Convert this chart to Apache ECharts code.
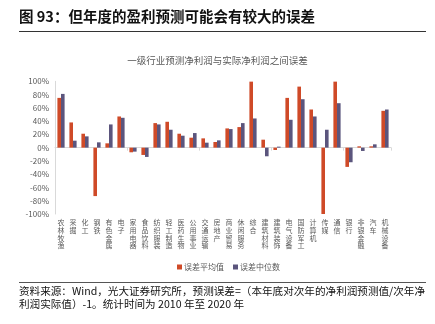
<!DOCTYPE html>
<html><head><meta charset="utf-8">
<script src="https://cdn.jsdelivr.net/npm/echarts@6/dist/echarts.min.js"></script>
<style>html,body{margin:0;padding:0;background:#fff}#c{width:435px;height:324px}</style>
</head><body><div id="c"></div>
<script>
var categories = ['农林牧渔','采掘','化工','钢铁','有色金属','电子','家用电器','食品饮料','纺织服装','轻工制造','医药生物','公用事业','交通运输','房地产','商业贸易','休闲服务','综合','建筑材料','建筑装饰','电气设备','国防军工','计算机','传媒','通信','银行','非银金融','汽车','机械设备'];
var meanErr = [75,38,21,-73,6.5,47,-7,-11,37,39,21,15,14,8.5,29,31,99.5,12,-3.5,75,92,57.5,-100,99.5,-29,2,2,55.5];
var medianErr = [81,10.5,17,8,35,45,-6,-14,35,27,18,22,7.5,11,28,37,44,-13,1.5,42,73,47,27,67,-22,-5,5,57.5];
var yTicks = [-100,-80,-60,-40,-20,0,20,40,60,80,100];
var seriesNames = ['误差平均值','误差中位数'];

var FONT = '"Noto Sans CJK SC", "Noto Sans", sans-serif';
var chart = echarts.init(document.getElementById('c'));
chart.setOption({
  animation:false,
  textStyle:{fontFamily:FONT},
  graphic:[
    {type:'text', left:19, top:9, style:{text:'图 93：但年度的盈利预测可能会有较大的误差', font:'bold 14.5px '+FONT, fill:'#111'}},
    {type:'line', shape:{x1:19,y1:31.5,x2:426,y2:31.5}, style:{stroke:'#333',lineWidth:1}},
    {type:'text', left:'center', top:56, style:{text:'一级行业预测净利润与实际净利润之间误差', font:'9.5px '+FONT, fill:'#595959'}},
    {type:'line', shape:{x1:19,y1:282.5,x2:426,y2:282.5}, style:{stroke:'#555',lineWidth:1}},
    {type:'text', left:19, top:285, style:{text:'资料来源：Wind，光大证券研究所，预测误差=（本年底对次年的净利润预测值/次年净\n利润实际值）-1。统计时间为 2010 年至 2020 年', font:'10.6px '+FONT, fill:'#111', lineHeight:12.5}}
  ],
  legend:{
    left:172, top:258, itemWidth:5, itemHeight:5, itemGap:9, icon:'rect',
    textStyle:{fontSize:8, color:'#595959', padding:[0,0,0,-3]},
    data:seriesNames
  },
  grid:{left:55, right:44, top:81.3, bottom:110},
  xAxis:[
    {type:'category', data:categories, axisLine:{onZero:true, lineStyle:{color:'#d9d9d9'}},
     axisTick:{show:true, length:3, lineStyle:{color:'#d9d9d9'}}, axisLabel:{show:false}},
    {type:'category', data:categories, position:'bottom', axisLine:{show:false, onZero:false}, axisTick:{show:false},
     axisLabel:{interval:0, margin:5, fontSize:7, lineHeight:7.6, color:'#595959', verticalAlign:'top',
       formatter:function(v){return v.split('').join('\n');}}}
  ],
  yAxis:{type:'value', min:yTicks[0], max:yTicks[yTicks.length-1], interval:20,
    axisLine:{show:true, lineStyle:{color:'#d9d9d9'}}, axisTick:{show:false}, splitLine:{show:false},
    axisLabel:{fontSize:8, color:'#595959', margin:6, formatter:'{value}%'}},
  series:[
    {name:seriesNames[0], type:'bar', data:meanErr, barWidth:'30%', barGap:'0%', itemStyle:{color:'#CF4A28'}},
    {name:seriesNames[1], type:'bar', data:medianErr, barWidth:'30%', barGap:'0%', itemStyle:{color:'#5B557D'}}
  ]
});
</script></body></html>
